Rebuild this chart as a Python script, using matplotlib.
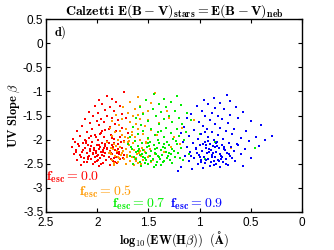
import matplotlib

matplotlib.use("Agg")
import matplotlib.pyplot as plt

# red: f_esc = 0.0
red_x = [1.74, 1.90, 1.98, 1.86, 1.82, 1.95, 2.02, 1.78, 1.88, 1.92, 2.08, 1.84, 1.99, 1.76, 1.90, 2.04, 1.86, 1.96, 2.12, 1.80,
         1.72, 2.00, 1.93, 2.07, 1.83,
         2.15, 1.98, 1.88, 1.76, 2.05, 1.92, 2.20, 1.82, 2.10, 1.96, 1.70, 2.02, 1.87, 2.17, 1.78, 1.93, 2.08, 2.24, 1.84, 1.99,
         2.12, 1.74,
         2.22, 2.05, 1.95, 1.89, 2.14, 1.80, 2.00, 2.09, 1.92, 2.18, 1.85, 1.97, 2.03, 1.76, 2.12, 1.90, 2.07, 1.94, 2.21, 1.83,
         2.01, 1.88, 2.15, 1.79, 1.96, 2.10, 1.92, 2.04, 1.86, 1.99, 2.17, 1.74, 2.08, 1.93, 1.82, 2.02, 1.89, 2.13, 1.97, 1.78,
         2.06, 1.91, 2.20, 1.85, 2.00, 2.10, 1.94, 1.81, 2.04, 1.88, 2.16, 1.98,
         1.95, 2.01, 1.90, 2.11, 1.86, 2.06, 1.98, 2.14, 1.87, 2.01, 1.95, 2.09, 1.84, 1.99, 2.03, 1.92, 1.80, 2.23, 1.77, 2.25,
         2.19, 1.93, 2.07, 1.81, 2.00, 1.87, 2.13, 1.96, 1.75, 2.04, 1.90, 2.16, 1.84, 1.98, 2.09, 1.79, 2.02, 1.94, 2.11, 1.86,
         2.21, 1.97, 1.89, 2.06, 1.83]
red_y = [-1.01, -1.10, -1.18, -1.15, -1.22, -1.27, -1.30, -1.30, -1.33, -1.38, -1.42, -1.40, -1.45, -1.47, -1.50, -1.52,
         -1.55, -1.58, -1.58, -1.60, -1.56, -1.62, -1.64, -1.66, -1.67,
         -1.72, -1.70, -1.73, -1.75, -1.78, -1.80, -1.82, -1.83, -1.85, -1.86, -1.87, -1.90, -1.91, -1.93, -1.94, -1.95,
         -1.97, -1.98, -1.99, -2.00, -2.01, -2.02,
         -2.05, -2.04, -2.06, -2.08, -2.08, -2.10, -2.11, -2.12, -2.13, -2.14, -2.15, -2.16, -2.17, -2.17, -2.18, -2.19,
         -2.20, -2.21, -2.21, -2.22, -2.23, -2.24, -2.25, -2.25, -2.26, -2.27, -2.28, -2.29, -2.30, -2.31, -2.31, -2.32,
         -2.33, -2.34, -2.35, -2.36, -2.37, -2.38, -2.39, -2.40, -2.41, -2.42, -2.43, -2.44, -2.45, -2.47, -2.48, -2.49,
         -2.51, -2.53, -2.52, -2.55,
         -1.83, -1.95, -2.02, -2.06, -2.12, -2.14, -2.20, -2.22, -2.27, -2.28, -2.32, -2.36, -2.39, -2.43, -2.21, -2.10,
         -2.20, -2.30, -2.05, -2.15,
         -2.09, -2.18, -2.24, -2.28, -2.33, -2.40, -2.46, -2.50, -2.38, -2.27, -2.17, -2.35, -2.06, -2.12, -2.41, -2.30,
         -2.47, -2.25, -2.03, -1.96, -2.26, -1.88, -1.78, -1.92, -2.46]

# orange: f_esc = 0.5
orange_x = [1.44, 1.60, 1.52, 1.68, 1.47, 1.58, 1.75, 1.63, 1.50, 1.55, 1.70, 1.82, 1.43, 1.65, 1.58, 1.76, 1.50, 1.86,
            1.68, 1.40, 1.62, 1.79, 1.53,
            1.88, 1.72, 1.60, 1.47, 1.83, 1.66, 1.55, 1.76, 1.42, 1.86, 1.63, 1.70, 1.50, 1.80, 1.58,
            1.90, 1.74, 1.65, 1.52, 1.84, 1.69, 1.45, 1.60, 1.78, 1.87, 1.56, 1.72, 1.48, 1.64, 1.81, 1.68, 1.53, 1.76,
            1.89, 1.61, 1.44, 1.71, 1.83, 1.57, 1.66, 1.50, 1.79, 1.62, 1.74, 1.86, 1.55, 1.68, 1.47, 1.80, 1.60, 1.72,
            1.64, 1.84, 1.77, 1.58, 1.85, 1.70, 1.63,
            1.82, 1.67, 1.54, 1.75, 1.59, 1.87, 1.49, 1.71, 1.62, 1.80, 1.57, 1.69, 1.46, 1.84, 1.73, 1.52, 1.66, 1.78,
            1.60, 1.88,
            1.17, 1.19, 0.69, 1.30, 1.25, 1.35, 1.05, 1.32, 1.28]
orange_y = [-1.03, -1.12, -1.18, -1.22, -1.25, -1.30, -1.32, -1.36, -1.40, -1.45, -1.44, -1.48, -1.50, -1.52, -1.57,
            -1.58, -1.60, -1.62, -1.63, -1.65, -1.68, -1.70, -1.72,
            -1.76, -1.77, -1.79, -1.80, -1.84, -1.85, -1.88, -1.90, -1.91, -1.93, -1.94, -1.97, -1.98, -2.00, -2.01,
            -2.04, -2.05, -2.07, -2.08, -2.10, -2.11, -2.12, -2.14, -2.15, -2.17, -2.18, -2.19, -2.20, -2.22, -2.23,
            -2.25, -2.26, -2.27, -2.28, -2.29, -2.30, -2.31, -2.33, -2.34, -2.35, -2.37, -2.38, -2.39, -2.41, -2.42,
            -2.43, -2.44, -2.46, -2.46, -2.48, -2.50, -2.53, -2.52, -2.31, -2.24, -2.20, -2.05, -2.40,
            -2.13, -2.16, -2.21, -2.24, -2.27, -2.30, -2.33, -2.36, -2.45, -2.36, -2.50, -2.03, -2.42, -2.48, -1.95,
            -2.05, -1.90, -1.82, -1.48, -2.26,
            -1.76, -2.10, -2.17, -1.55, -1.95, -2.25, -1.60, -1.40, -2.15]

# green: f_esc = 0.7
green_x = [1.45, 1.22, 1.35, 1.52, 1.28, 1.40, 1.18, 1.58, 1.33, 1.46, 1.24, 1.38, 1.12, 1.55, 1.30, 1.43, 1.20, 1.62,
           1.35, 1.08, 1.50, 1.27, 1.40, 1.17, 1.57,
           1.65, 1.33, 1.47, 1.22, 1.55, 1.38, 1.13, 1.28, 1.60, 1.44, 1.20, 1.35, 1.68, 1.50, 1.26, 1.41, 1.15,
           1.63, 1.48, 1.32, 1.56, 1.40, 1.22, 1.70, 1.45, 1.30, 1.60, 1.36, 1.51, 1.18, 1.42, 1.66, 1.27, 1.55, 1.38,
           1.47, 1.33, 1.62, 1.21, 1.52, 1.43, 1.28, 1.58, 1.37, 1.68, 1.48, 1.24, 1.55, 1.40, 1.32, 1.62, 1.46, 1.16,
           1.52, 1.35, 1.58, 1.42, 1.27, 1.50, 1.65, 1.38, 1.45, 1.57, 1.44, 1.35, 1.53, 1.30, 1.41,
           1.49, 1.34, 1.60, 1.25, 1.44, 1.56, 1.31, 1.39, 1.64, 1.47, 1.19, 1.53, 1.36, 1.43, 1.29, 1.59, 1.50, 1.23,
           1.41, 1.67,
           0.46, 0.85, 1.00, 0.95, 1.10]
green_y = [-1.05, -1.10, -1.15, -1.18, -1.22, -1.26, -1.28, -1.32, -1.33, -1.36, -1.40, -1.43, -1.45, -1.46, -1.50,
           -1.52, -1.55, -1.56, -1.58, -1.60, -1.62, -1.64, -1.67, -1.68, -1.70,
           -1.74, -1.75, -1.77, -1.79, -1.82, -1.83, -1.85, -1.87, -1.88, -1.90, -1.92, -1.94, -1.95, -1.97, -1.99,
           -2.00, -2.01,
           -2.03, -2.04, -2.05, -2.07, -2.08, -2.09, -2.10, -2.11, -2.12, -2.14, -2.15, -2.16, -2.17, -2.18, -2.19,
           -2.20, -2.21, -2.22, -2.24, -2.25, -2.26, -2.27, -2.28, -2.29, -2.30, -2.31, -2.32, -2.33, -2.34, -2.35,
           -2.36, -2.37, -2.39, -2.40, -2.41, -2.42, -2.43, -2.44, -2.46, -2.47, -2.48, -2.50, -2.51, -2.53, -2.56,
           -2.55, -2.20, -2.09, -2.38, -2.28, -2.33,
           -2.13, -2.18, -2.23, -2.24, -2.27, -2.30, -2.34, -2.41, -2.37, -2.45, -2.38, -2.49, -2.47, -2.52, -2.43,
           -2.20, -2.06, -2.02, -1.85, -2.15,
           -2.17, -2.05, -1.88, -2.40, -2.30]

# blue: f_esc = 0.9
blue_x = [0.73, 0.86, 0.96, 0.70, 0.80, 0.92, 1.03, 0.64, 0.85, 0.76, 0.98, 0.58, 0.88, 1.08, 0.70, 0.82, 0.95, 0.62,
          1.12, 0.78, 0.90, 0.50, 1.01, 0.72, 0.85, 0.40, 0.97,
          1.15, 0.80, 0.66, 0.93, 1.05, 0.74, 0.55, 0.88, 1.18, 0.99, 0.68, 0.82, 0.29, 1.10, 0.45, 0.92, 0.60, 0.77,
          1.02, 0.36, 0.86, 0.52,
          1.16, 0.95, 0.71, 0.84, 1.06, 0.63, 0.90, 0.78, 1.00, 0.42, 0.87, 1.12, 0.69, 0.94, 0.81, 0.56, 1.04, 0.75,
          0.89, 0.98, 0.66, 0.84, 1.09, 0.73, 0.93, 0.60, 0.80, 1.01, 0.88, 0.70, 1.14, 0.96, 0.78, 0.85, 0.50, 1.05,
          0.92, 0.74, 0.82, 0.99, 0.65, 1.10, 0.89, 0.77, 0.95, 0.84, 1.02, 0.72, 0.90, 1.18, 0.80, 0.97, 1.07, 1.21,
          0.58, 0.87, 0.91, 0.79, 1.00, 0.86, 0.94, 0.83, 0.76,
          0.97, 0.83, 0.91, 0.76, 1.03, 0.88, 0.71, 0.94, 0.81, 1.08, 0.86, 0.99, 0.68, 0.92, 0.79, 1.04, 0.85, 0.62,
          0.74, 0.95]
blue_y = [-1.07, -1.13, -1.18, -1.20, -1.24, -1.27, -1.30, -1.32, -1.34, -1.37, -1.40, -1.42, -1.44, -1.46, -1.48,
          -1.50, -1.52, -1.55, -1.56, -1.58, -1.60, -1.62, -1.64, -1.66, -1.68, -1.70, -1.71,
          -1.74, -1.75, -1.77, -1.78, -1.80, -1.82, -1.83, -1.85, -1.86, -1.88, -1.89, -1.91, -1.92, -1.93, -1.94,
          -1.95, -1.96, -1.98, -1.99, -2.00, -2.01, -2.02,
          -2.04, -2.05, -2.06, -2.07, -2.08, -2.09, -2.10, -2.11, -2.12, -2.13, -2.14, -2.15, -2.16, -2.17, -2.18,
          -2.19, -2.20, -2.21, -2.22, -2.23, -2.24, -2.25, -2.26, -2.27, -2.28, -2.29, -2.30, -2.31, -2.32, -2.33,
          -2.34, -2.35, -2.36, -2.37, -2.38, -2.39, -2.40, -2.41, -2.42, -2.43, -2.44, -2.45, -2.46, -2.47, -2.48,
          -2.50, -2.51, -2.52, -2.54, -2.56, -2.57, -2.58, -2.60, -2.65,
          -2.55, -2.28, -2.19, -2.33, -2.37, -2.44, -2.12, -2.05, -2.16,
          -2.09, -2.13, -2.25, -2.19, -2.27, -2.35, -2.30, -2.42, -2.45, -2.33, -2.53, -2.47, -2.38, -2.03, -2.40,
          -2.18, -2.15, -2.12, -2.50, -1.84]

groups = [
    (red_x, red_y, "#ff0000", r"$\mathbf{f_{esc} = 0.0}$", 2.5, -2.78),
    (orange_x, orange_y, "#ff9900", r"$\mathbf{f_{esc} = 0.5}$", 2.18, -3.08),
    (green_x, green_y, "#00ee00", r"$\mathbf{f_{esc} = 0.7}$", 1.86, -3.33),
    (blue_x, blue_y, "#0000ff", r"$\mathbf{f_{esc} = 0.9}$", 1.29, -3.33),
]

plt.rcParams["mathtext.fontset"] = "cm"
plt.rcParams["font.family"] = "Liberation Sans"

fig = plt.figure(figsize=(3.34, 2.5), dpi=100)
ax = fig.add_axes([0.138, 0.152, 0.766, 0.772])

for xs, ys, color, label, tx, ty in groups:
    ax.scatter(xs, ys, s=4, marker="s", color=color, linewidths=0)
for xs, ys, color, label, tx, ty in groups:
    ax.text(tx, ty, label, color=color, fontsize=10, ha="left", va="center")

ax.set_xlim(2.5, 0)
ax.set_ylim(-3.5, 0.5)
ax.set_xticks([2.5, 2, 1.5, 1, 0.5, 0])
ax.set_xticklabels(["2.5", "2", "1.5", "1", "0.5", "0"])
ax.set_yticks([0.5, 0, -0.5, -1, -1.5, -2, -2.5, -3, -3.5])
ax.set_yticklabels(["0.5", "0", "-0.5", "-1", "-1.5", "-2", "-2.5", "-3", "-3.5"])
ax.tick_params(direction="in", top=True, right=True, labelsize=8.5, length=3, width=0.8)
ax.tick_params(axis="x", pad=3.5)
ax.tick_params(axis="y", pad=2)
for spine in ax.spines.values():
    spine.set_linewidth(1.0)

ax.text(0.03, 0.93, r"$\mathbf{d)}$", transform=ax.transAxes, fontsize=9, ha="left", va="center")
ax.set_title(r"$\mathbf{Calzetti\ E(B-V)_{stars} = E(B-V)_{neb}}$", fontsize=10, pad=3)
ax.set_ylabel(r"$\mathbf{UV\ Slope}\ \beta$", fontsize=9, labelpad=1)
ax.set_xlabel(r"$\mathbf{log_{10}(EW(H}\beta\mathbf{))\ \ (\AA)}$", fontsize=9, labelpad=0)

fig.savefig("out.png", dpi=100)
